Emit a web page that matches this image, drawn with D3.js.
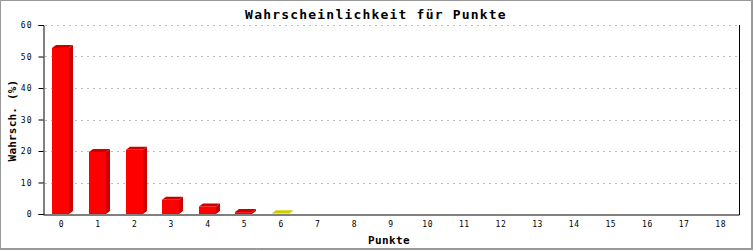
<!DOCTYPE html>
<html><head><meta charset="utf-8">
<script src="https://cdn.jsdelivr.net/npm/d3@7/dist/d3.min.js"></script>
<style>body{margin:0;background:#fff}svg{display:block}text{font-family:"DejaVu Sans Mono",monospace}</style>
</head><body><svg id="c" width="753" height="250"></svg>
<script>
const categories = ["0","1","2","3","4","5","6","7","8","9","10","11","12","13","14","15","16","17","18"];
const values = [52.7, 19.7, 20.4, 4.5, 2.4, 0.6, 0.2, 0, 0, 0, 0, 0, 0, 0, 0, 0, 0, 0, 0];
const yTicks = [0, 10, 20, 30, 40, 50, 60];
const highlightIndex = 6;
const title = "Wahrscheinlichkeit für Punkte";
const xTitle = "Punkte";
const yTitle = "Wahrsch. (%)";

const svg = d3.select("#c");
const L = 43, R = 739, T = 25, B = 214;
const x = d3.scaleBand().domain(categories).range([L, R]).padding(0);
const y = d3.scaleLinear().domain([0, 60]).range([B, T]);

// frame
svg.append("rect").attr("x",0.5).attr("y",0.5).attr("width",751).attr("height",248)
  .attr("fill","#fff").attr("stroke","#999");
svg.append("path").attr("d","M752.5,0V250M0,249.5H753").attr("stroke","#999");

// grid
svg.append("g").selectAll("line").data(yTicks.filter(d=>d>0)).join("line")
  .attr("x1",L+2).attr("x2",R).attr("y1",d=>Math.round(y(d))+0.5).attr("y2",d=>Math.round(y(d))+0.5)
  .attr("stroke","#bcbcbc").attr("stroke-dasharray","2,4");

// bars
const bw = 17, dx = 4, dy = 3;
const bars = svg.append("g");
values.forEach((v,i)=>{
  if (v <= 0) return;
  const c = x(categories[i]) + x.bandwidth()/2;
  const x0 = Math.round(c - 9), x1 = x0 + bw;
  const yt = y(v), yb = y(0);
  const front = i===highlightIndex ? "#eeee00" : "#ff0000";
  const dark = i===highlightIndex ? "#cccc00" : "#cc0000";
  bars.append("polygon").attr("points",`${x0},${yt} ${x0+dx},${yt-dy} ${x1+dx},${yt-dy} ${x1},${yt}`).attr("fill",dark);
  bars.append("polygon").attr("points",`${x1},${yt} ${x1+dx},${yt-dy} ${x1+dx},${yb-dy} ${x1},${yb}`).attr("fill",dark);
  bars.append("rect").attr("x",x0).attr("y",yt).attr("width",bw).attr("height",yb-yt).attr("fill",front);
});

// axes
const yAxis = d3.axisLeft(y).tickValues(yTicks).tickSize(5).tickPadding(6);
const gy = svg.append("g").attr("transform",`translate(${L+0.5},0)`).call(yAxis);
gy.select(".domain").attr("stroke","#000");
gy.selectAll("text").attr("font-size",8).attr("letter-spacing",1).attr("fill","#000").attr("font-family","DejaVu Sans Mono");
const xAxis = d3.axisBottom(x).tickSize(0).tickPadding(7);
const gx = svg.append("g").attr("transform",`translate(0,${B+0.5})`).call(xAxis);
gx.select(".domain").attr("stroke","#000");
gx.selectAll("text").attr("font-size",8).attr("letter-spacing",0.5).attr("fill","#000").attr("font-family","DejaVu Sans Mono");
svg.append("line").attr("x1",R+0.5).attr("x2",R+0.5).attr("y1",T).attr("y2",B+1).attr("stroke","#000");

// titles
svg.append("text").attr("x",376).attr("y",19).attr("text-anchor","middle")
  .attr("font-size",13).attr("font-weight","bold").attr("letter-spacing",1.2).text(title);
svg.append("text").attr("x",389).attr("y",243.5).attr("text-anchor","middle")
  .attr("font-size",11).attr("font-weight","bold").attr("letter-spacing",0.4).text(xTitle);
svg.append("text").attr("transform","translate(16.3,120.5) rotate(-90)").attr("text-anchor","middle")
  .attr("font-size",11).attr("font-weight","bold").attr("letter-spacing",0.2).text(yTitle);
</script></body></html>
